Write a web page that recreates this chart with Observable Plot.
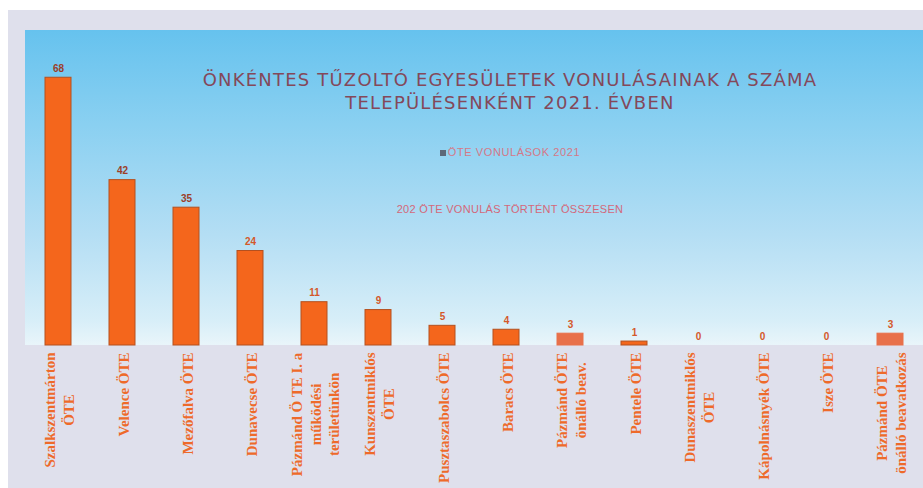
<!DOCTYPE html>
<html>
<head>
<meta charset="utf-8">
<script src="https://cdn.jsdelivr.net/npm/d3@7"></script>
<script src="https://cdn.jsdelivr.net/npm/@observablehq/plot@0.6"></script>
<style>
  html, body { margin: 0; padding: 0; background: #ffffff; }
  #wrap { position: relative; width: 923px; height: 488px; overflow: hidden; background: #ffffff; }
  #frame { position: absolute; left: 8px; top: 10px; right: 0; bottom: 0; background: #dfe0ec; }
  #sky { position: absolute; left: 25px; top: 30px; right: 0; height: 315px;
         background: linear-gradient(to bottom, #66c2ee 0%, #8ad0f1 30%, #b4def4 65%, #d7eef8 92%, #e9f5fa 100%); }
  #chart { position: absolute; left: 0; top: 0; }
  .t { position: absolute; left: 97px; width: 826px; text-align: center; white-space: nowrap; }
  #title { top: 68px; font-family: "DejaVu Sans", sans-serif; font-size: 18px; line-height: 23px; color: #84485a; letter-spacing: 1.2px; }
  #legend { top: 146px; font-family: "Liberation Sans", sans-serif; font-size: 11px; letter-spacing: 0.6px; color: #d47888; }
  #legend span { display: inline-block; width: 6px; height: 6px; background: #5d6878; margin-right: 2px; vertical-align: 0px; }
  #total { top: 203px; font-family: "Liberation Sans", sans-serif; font-size: 11px; letter-spacing: 0.3px; color: #d4687a; }
</style>
</head>
<body>
<div id="wrap">
  <div id="frame"></div>
  <div id="sky"></div>
  <div id="chart"></div>
  <div class="t" id="title">ÖNKÉNTES TŰZOLTÓ EGYESÜLETEK VONULÁSAINAK A SZÁMA<br>TELEPÜLÉSENKÉNT 2021. ÉVBEN</div>
  <div class="t" id="legend"><span></span>ÖTE VONULÁSOK 2021</div>
  <div class="t" id="total">202 ÖTE VONULÁS TÖRTÉNT ÖSSZESEN</div>
</div>
<script>
const categories = [
  "Szalkszentmárton\nÖTE",
  "Velence ÖTE",
  "Mezőfalva ÖTE",
  "Dunavecse ÖTE",
  "Pázmánd Ö TE I. a\nműködési\nterületünkön",
  "Kunszentmiklós\nÖTE",
  "Pusztaszabolcs ÖTE",
  "Baracs ÖTE",
  "Pázmánd ÖTE\nönálló beav.",
  "Pentele ÖTE",
  "Dunaszentmiklós\nÖTE",
  "Kápolnásnyék ÖTE",
  "Isze ÖTE",
  "Pázmánd ÖTE\nönálló beavatkozás"
];
const values = [68, 42, 35, 24, 11, 9, 5, 4, 3, 1, 0, 0, 0, 3];
const seriesName = "ÖTE VONULÁSOK 2021";

const data = categories.map((name, i) => ({name, value: values[i], standalone: name.includes("önálló")}));

const W = 923, H = 488, mTop = 30, mBottom = 143;
const yMax = 80;
const pxPerUnit = (H - mTop - mBottom) / yMax;

const labelFont = "bold 15px 'Liberation Serif'";
const ctx = document.createElement("canvas").getContext("2d");
ctx.font = labelFont;
const longest = s => d3.max(s.split("\n"), l => ctx.measureText(l).width);

const chart = Plot.plot({
  width: W,
  height: H,
  marginTop: mTop,
  marginBottom: mBottom,
  marginLeft: 25,
  marginRight: 0,
  style: {background: "transparent", overflow: "visible"},
  x: {domain: categories, paddingInner: 0.6, paddingOuter: 0.28, axis: null},
  y: {domain: [0, yMax], axis: null},
  marks: [
    Plot.barY(data, {
      x: "name", y: "value",
      fill: d => d.standalone ? "#e8704a" : "#f4661c",
      stroke: d => d.standalone ? "#e8704a" : "#b4501f",
      strokeWidth: 1
    }),
    Plot.text(data, {
      x: "name", y: "value", text: d => String(d.value),
      dy: -9, fontSize: 10, fontWeight: "bold",
      fontFamily: "Liberation Sans, sans-serif",
      fill: d => d.value > 30 ? "#9c3e28" : "#d4582a"
    }),
    Plot.text(data, {
      x: "name",
      y: d => -(7 + longest(d.name) / 2) / pxPerUnit,
      text: "name",
      rotate: -90,
      textAnchor: "middle",
      lineAnchor: "middle",
      lineHeight: 1.25,
      fontSize: 15,
      fontWeight: "bold",
      fontFamily: "Liberation Serif, serif",
      fill: "#ee6a2a"
    })
  ]
});
document.getElementById("chart").appendChild(chart);
</script>
</body>
</html>
